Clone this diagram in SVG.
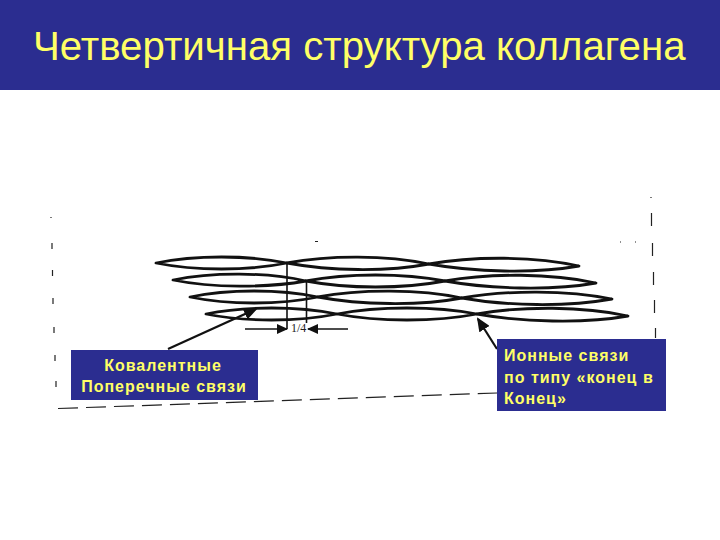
<svg xmlns="http://www.w3.org/2000/svg" width="720" height="540" viewBox="0 0 720 540">
<style>
.spindle{fill:none;stroke:#111;stroke-width:2.8;stroke-linejoin:round}
.thin{fill:none;stroke:#111;stroke-width:1.6}
.bold{fill:none;stroke:#111;stroke-width:2.2}
.dash{fill:none;stroke:#222;stroke-width:1.2}
.box{fill:#2b2d90}
text{font-family:"Liberation Sans",Arial,sans-serif;fill:#ffff66}
.lab{font-size:16px;font-weight:bold;letter-spacing:1px}
</style>
<defs>
<marker id="ah" markerWidth="11" markerHeight="10" refX="10" refY="5" orient="auto" markerUnits="userSpaceOnUse"><path d="M0 0L11 5L0 10Z" fill="#111"/></marker>
<marker id="ahb" markerWidth="14" markerHeight="12" refX="12" refY="6" orient="auto" markerUnits="userSpaceOnUse"><path d="M0 0L14 6L0 12Z" fill="#111"/></marker>
</defs>
<rect width="720" height="540" fill="#fff"/>
<g id="header">
<rect class="box" width="720" height="90"/>
<text x="33" y="60" font-size="40.200" font-weight="normal">Четвертичная структура коллагена</text>
</g>
<g id="fibrils">
<path class="spindle" d="M156 263C195 255 248 255 287 263C248 271 195 271 156 263Z"/>
<path class="spindle" d="M287 263C330 255 386 255 429 264C386 272 330 271 287 263Z"/>
<path class="spindle" d="M429 264C474 256 534 256 579 266C534 274 474 272 429 264Z"/>
<path class="spindle" d="M173 280C212 272 267 272 306 281C267 288 212 288 173 280Z"/>
<path class="spindle" d="M306 281C348 273 403 273 445 281C403 289 348 289 306 281Z"/>
<path class="spindle" d="M445 281C490 273 551 273 596 283C551 291 490 289 445 281Z"/>
<path class="spindle" d="M190 297C228 289 280 289 318 297C280 305 228 305 190 297Z"/>
<path class="spindle" d="M318 297C360 289 420 289 462 298C420 306 360 305 318 297Z"/>
<path class="spindle" d="M462 298C507 290 567 290 612 299C567 307 507 306 462 298Z"/>
<path class="spindle" d="M206 314C245 306 298 306 337 314C298 322 245 322 206 314Z"/>
<path class="spindle" d="M337 314C378 306 436 306 477 314C436 322 378 322 337 314Z"/>
<path class="spindle" d="M477 314C522 306 583 306 628 316C583 324 522 322 477 314Z"/>
</g>
<g id="connectors">
<line class="thin" x1="287" y1="264" x2="287" y2="329"/>
<line class="thin" x1="306.500" y1="281" x2="306.500" y2="323"/>
<line class="thin" x1="245" y1="329" x2="287" y2="329" marker-end="url(#ah)"/>
<line class="thin" x1="348" y1="329" x2="308" y2="329" marker-end="url(#ah)"/>
<line class="bold" x1="168" y1="349" x2="256" y2="309" marker-end="url(#ahb)"/>
<line class="bold" x1="497" y1="349" x2="478" y2="319" marker-end="url(#ahb)"/>
<path class="dash" d="M58 408.500L497 393" stroke-dasharray="20 8"/>
<path class="dash" d="M51 217V218M52 243V249M52.500 270V276M53 298V304M54 327V333M55 355V361M56 381V387"/>
<path class="dash" d="M651 197V198M651.500 213V226M652.500 243V256M653.500 272V285M654.500 300V313M655.500 328V338"/>
<path class="dash" d="M315 241.500H318M620 242H621M635 242H636"/>
</g>
<g id="label-left">
<rect class="box" x="71" y="350" width="187" height="50"/>
<text class="lab" x="163" y="371" text-anchor="middle">Ковалентные</text>
<text class="lab" x="164" y="392" text-anchor="middle">Поперечные связи</text>
</g>
<g id="label-right">
<rect class="box" x="497" y="339" width="169" height="72"/>
<text class="lab" x="504" y="361">Ионные связи</text>
<text class="lab" x="504" y="383">по типу «конец в</text>
<text class="lab" x="504" y="404">Конец»</text>
</g>
<text x="291" y="332" font-size="12" style="font-family:'Liberation Serif',serif;fill:#222">1/4</text>
</svg>
